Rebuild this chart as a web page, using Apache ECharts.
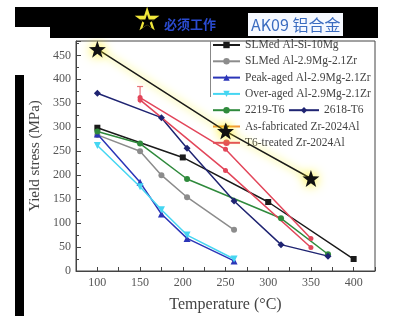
<!DOCTYPE html>
<html><head><meta charset="utf-8">
<script src="https://cdn.jsdelivr.net/npm/echarts@6/dist/echarts.min.js"></script>
<style>html,body{margin:0;padding:0;background:#fff}#c{width:398px;height:320px}</style>
</head><body><div id="c"></div>
<script>
// ---- data ----
const xTicks = [100,150,200,250,300,350,400];
const yTicks = [0,50,100,150,200,250,300,350,400,450];

const siMgT  = [100,200,300,400];
const siMgY  = [299,237,144,25];
const mgZrT  = [100,150,175,205,260];
const mgZrY  = [284,250,200,154,86];
const peakT  = [100,150,175,205,260];
const peakY  = [286,185,119,68,21];
const overT  = [100,150,175,205,260];
const overY  = [262,176,128,75,25];
const a2219T = [100,150,205,315,370];
const a2219Y = [291,266,192,110,35];
const a2618T = [100,175,205,260,315,370];
const a2618Y = [371,320,256,146,55,31];
const asFabT = [100,250,350];
const asFabY = [463,292,193];
const t6aT   = [150,250,350];
const t6aY   = [362,254,68];
const t6bT   = [150,250,350];
const t6bY   = [357,210,49];
const errT   = [150];
const errLo  = [350];
const errHi  = [385];

const names = ['SLMed Al-Si-10Mg','SLMed Al-2.9Mg-2.1Zr','Peak-aged Al-2.9Mg-2.1Zr',
  'Over-aged Al-2.9Mg-2.1Zr','2219-T6','2618-T6','As-fabricated Zr-2024Al','T6-treated Zr-2024Al'];

const pairs = (t, v) => t.map((x, i) => [x, v[i]]);
const serif = '"Liberation Serif","Times New Roman",serif';
const starPath = 'path://M0,-10L2.35,-3.24L9.51,-3.09L3.8,1.24L5.88,8.09L0,4L-5.88,8.09L-3.8,1.24L-9.51,-3.09L-2.35,-3.24Z';

function ln(name, t, v, color, symbol, size, extra) {
  return Object.assign({
    name, type: 'line', data: pairs(t, v), symbol, symbolSize: size,
    lineStyle: { color, width: 1.5 }, itemStyle: { color }, z: 3
  }, extra || {});
}

const chart = echarts.init(document.getElementById('c'), null, { renderer: 'canvas' });
chart.setOption({
  animation: false,
  backgroundColor: '#fff',
  grid: { left: 76, right: 23, top: 41, bottom: 49, show: true, borderColor: '#444', borderWidth: 1 },
  xAxis: {
    type: 'value', min: 75, max: 425, interval: 25,
    name: 'Temperature (°C)', nameLocation: 'middle', nameGap: 26,
    nameTextStyle: { fontFamily: serif, fontSize: 16, color: '#444' },
    axisLine: { lineStyle: { color: '#444' } },
    axisTick: { inside: true, length: 4, lineStyle: { color: '#444' } },
    splitLine: { show: false },
    axisLabel: { fontFamily: serif, fontSize: 12, color: '#555', margin: 6,
      formatter: v => xTicks.includes(v) ? String(v) : '' }
  },
  yAxis: {
    type: 'value', min: 0, max: 480, interval: 50,
    name: 'Yield stress (MPa)', nameLocation: 'middle', nameGap: 33,
    nameTextStyle: { fontFamily: serif, fontSize: 15, color: '#444' },
    axisLine: { show: true, lineStyle: { color: '#444' } },
    axisTick: { inside: true, length: 5, lineStyle: { color: '#444' } },
    minorTick: { show: true, splitNumber: 2, length: 3, lineStyle: { color: '#444' } },
    splitLine: { show: false },
    axisLabel: { fontFamily: serif, fontSize: 12, color: '#555', margin: 5,
      formatter: v => yTicks.includes(v) ? String(v) : '' }
  },
  legend: [{
    orient: 'vertical', left: 212, top: 39, padding: 0,
    itemWidth: 27, itemHeight: 8, itemGap: 4.3,
    textStyle: { fontFamily: serif, fontSize: 11.5, color: '#444', lineHeight: 12 },
    data: [names[0], names[1], names[2], names[3], names[4],
      { name: names[6], lineStyle: { color: '#f0903a', shadowBlur: 0 }, itemStyle: { color: '#111', shadowColor: '#ffee00', shadowBlur: 8 } },
      names[7]]
  }, {
    orient: 'vertical', left: 288, top: 104.2, padding: 0,
    itemWidth: 30, itemHeight: 8,
    textStyle: { fontFamily: serif, fontSize: 11.5, color: '#444', lineHeight: 12 },
    data: [names[5]]
  }],
  graphic: [
    { type: 'rect', shape: { x: 15, y: 7, width: 363, height: 20 }, style: { fill: '#000' }, z: 100 },
    { type: 'rect', shape: { x: 50, y: 7, width: 328, height: 31 }, style: { fill: '#000' }, z: 100 },
    { type: 'rect', shape: { x: 15, y: 75, width: 9, height: 241 }, style: { fill: '#000' }, z: 100 },
    { type: 'text', x: 147, y: 22, style: { text: '★', fontSize: 32, fill: '#f2e83a', align: 'center', verticalAlign: 'middle', fontFamily: 'DejaVu Sans' }, z: 101 },
    { type: 'text', x: 147, y: 23, style: { text: '★', fontSize: 19, fill: '#000', align: 'center', verticalAlign: 'middle', fontFamily: 'DejaVu Sans' }, z: 102 },
    { type: 'text', x: 164, y: 24, style: { text: '必须工作', fontSize: 13, fontWeight: 'bold', fill: '#2a4bd0', verticalAlign: 'middle', fontFamily: '"Noto Sans CJK SC"' }, z: 101 },
    { type: 'rect', shape: { x: 248, y: 13, width: 95, height: 23 }, style: { fill: '#f6f9ff' }, z: 101 },
    { type: 'text', x: 251, y: 25, style: { text: 'AK09 铝合金', fontSize: 16, fill: '#3b6cc0', verticalAlign: 'middle', fontFamily: '"Noto Sans CJK SC"' }, z: 102 },
    { type: 'line', shape: { x1: 210.5, y1: 41, x2: 210.5, y2: 97 }, style: { stroke: '#888', lineWidth: 1 }, z: 1 }
  ],
  series: [
    ln(names[0], siMgT, siMgY, '#1a1a1a', 'rect', 6),
    ln(names[1], mgZrT, mgZrY, '#8c8c8c', 'circle', 6),
    ln(names[2], peakT, peakY, '#2b35b8', 'triangle', 7),
    ln(names[3], overT, overY, '#45d6f2', 'triangle', 7, { symbolRotate: 180 }),
    ln(names[4], a2219T, a2219Y, '#2f8a3c', 'circle', 6),
    ln(names[5], a2618T, a2618Y, '#1f2472', 'diamond', 7),
    ln(names[6], asFabT, asFabY, '#1a1a1a', starPath, 17, {
      lineStyle: { color: '#1a1a1a', width: 1.5, shadowColor: '#f3ee00', shadowBlur: 8 },
      itemStyle: { color: '#111', shadowColor: '#ffee00', shadowBlur: 12 }, z: 6 }),
    ln(names[7], t6aT, t6aY, '#e2465a', 'circle', 5),
    ln(names[7], t6bT, t6bY, '#e2465a', 'circle', 5),
    {
      name: names[7], type: 'custom', z: 3,
      data: errT.map((t, i) => [t, errLo[i], errHi[i]]),
      renderItem: (params, api) => {
        const lo = api.coord([api.value(0), api.value(1)]);
        const hi = api.coord([api.value(0), api.value(2)]);
        return { type: 'group', children: [
          { type: 'line', shape: { x1: lo[0], y1: lo[1], x2: hi[0], y2: hi[1] }, style: { stroke: '#e8707a', lineWidth: 1.2 } },
          { type: 'line', shape: { x1: hi[0] - 3, y1: hi[1], x2: hi[0] + 3, y2: hi[1] }, style: { stroke: '#e8707a', lineWidth: 1.2 } }
        ] };
      }
    }
  ]
});
</script></body></html>
